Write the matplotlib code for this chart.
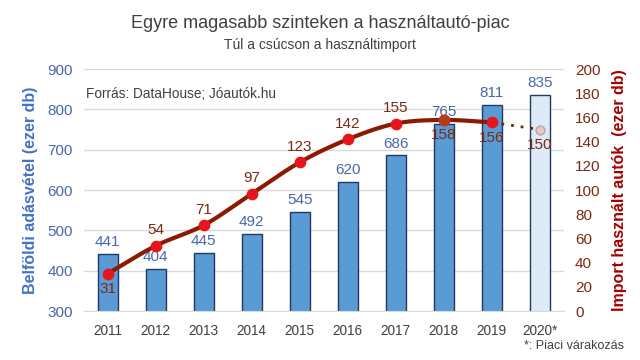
import numpy as np
import matplotlib.pyplot as plt

plt.rcParams['font.family'] = ['Liberation Sans', 'DejaVu Sans']

years = ['2011', '2012', '2013', '2014', '2015', '2016', '2017', '2018', '2019', '2020*']
sales = [441, 404, 445, 492, 545, 620, 686, 765, 811, 835]
imports = [31, 54, 71, 97, 123, 142, 155, 158, 156, 150]
imp_label_below = [True, False, False, False, False, False, False, True, True, True]

blue_txt = '#4A66AC'
red_txt = '#7A2A12'


def smooth(xs, ys, n=20):
    # catmull-rom curve through the points, like Excel's smoothed line
    xs = np.asarray(xs, float)
    ys = np.asarray(ys, float)
    px = np.concatenate([[2 * xs[0] - xs[1]], xs, [2 * xs[-1] - xs[-2]]])
    py = np.concatenate([[2 * ys[0] - ys[1]], ys, [2 * ys[-1] - ys[-2]]])
    ox, oy = [], []
    t = np.linspace(0, 1, n)
    for i in range(1, len(px) - 2):
        for p, out in ((px, ox), (py, oy)):
            p0, p1, p2, p3 = p[i - 1], p[i], p[i + 1], p[i + 2]
            out.extend(0.5 * (2 * p1 + (-p0 + p2) * t + (2 * p0 - 5 * p1 + 4 * p2 - p3) * t ** 2
                              + (-p0 + 3 * p1 - 3 * p2 + p3) * t ** 3))
    return ox, oy


fig = plt.figure(figsize=(6.4, 3.6), dpi=100)
ax = fig.add_axes([0.131, 0.136, 0.75, 0.672])
x = np.arange(len(years))

colors = ['#5B9BD5'] * (len(years) - 1) + ['#DEEBF7']
ax.bar(x, sales, width=0.42, color=colors, edgecolor='#203864', linewidth=1.0, zorder=2)
ax.set_ylim(300, 900)
ax.set_xlim(-0.5, len(years) - 0.5)
ax.set_yticks(range(300, 901, 100))
ax.grid(axis='y', color='#D9D9D9', linewidth=1, zorder=0)
ax.set_axisbelow(True)
for s in ax.spines.values():
    s.set_visible(False)
ax.spines['bottom'].set_visible(True)
ax.spines['bottom'].set_color('#D9D9D9')
ax.tick_params(axis='y', length=0, labelsize=11, labelcolor=blue_txt, pad=8)
ax.tick_params(axis='x', length=0, labelsize=9.8, labelcolor='#404040', pad=9)
ax.set_xticks(x)
ax.set_xticklabels(years)
ax.set_ylabel('Belföldi adásvétel (ezer db)', color='#4472C4', fontsize=11.5,
              fontweight='bold', labelpad=7)
for xi, v in zip(x, sales):
    ax.text(xi, v + 12, str(v), ha='center', va='bottom', fontsize=11, color=blue_txt, zorder=5)

ax2 = ax.twinx()
ax2.set_ylim(0, 200)
ax2.set_yticks(range(0, 201, 20))
for s in ax2.spines.values():
    s.set_visible(False)
ax2.tick_params(axis='y', length=0, labelsize=11, labelcolor=red_txt, pad=8)
ax2.set_ylabel('Import használt autók  (ezer db)', color='#A50000', fontsize=11.5,
               fontweight='bold', rotation=90, labelpad=8)

sx, sy = smooth(x[:-1], imports[:-1])
ax2.plot(sx, sy, color='#8B1A00', linewidth=3, zorder=3, solid_capstyle='round')
ax2.plot(x[-2:], imports[-2:], color='#6B2A10', linewidth=2, linestyle=(0, (1, 2.5)), zorder=3)
ax2.scatter(x[:-1], imports[:-1], s=55, color='#E8141B', zorder=4)
ax2.scatter(x[7], imports[7], s=55, color='#B0401A', zorder=4)
ax2.scatter(x[-1], imports[-1], s=40, color='#E8C8C8', edgecolor='#C0A0A0', zorder=4)
for xi, v, below in zip(x, imports, imp_label_below):
    off = -7 if below else 7
    ax2.text(xi, v + off, str(v), ha='center', va='top' if below else 'bottom',
             fontsize=11, color=red_txt, zorder=5)

fig.text(0.5, 0.935, 'Egyre magasabb szinteken a használtautó-piac', ha='center', va='center',
         fontsize=13, color='#404040')
fig.text(0.5, 0.875, 'Túl a csúcson a használtimport', ha='center', va='center',
         fontsize=10, color='#404040')
fig.text(0.134, 0.738, 'Forrás: DataHouse; Jóautók.hu', ha='left', va='center',
         fontsize=9.8, color='#404040')
fig.text(0.975, 0.04, '*: Piaci várakozás', ha='right', va='center', fontsize=9, color='#404040')

fig.savefig('out.png', dpi=100)
